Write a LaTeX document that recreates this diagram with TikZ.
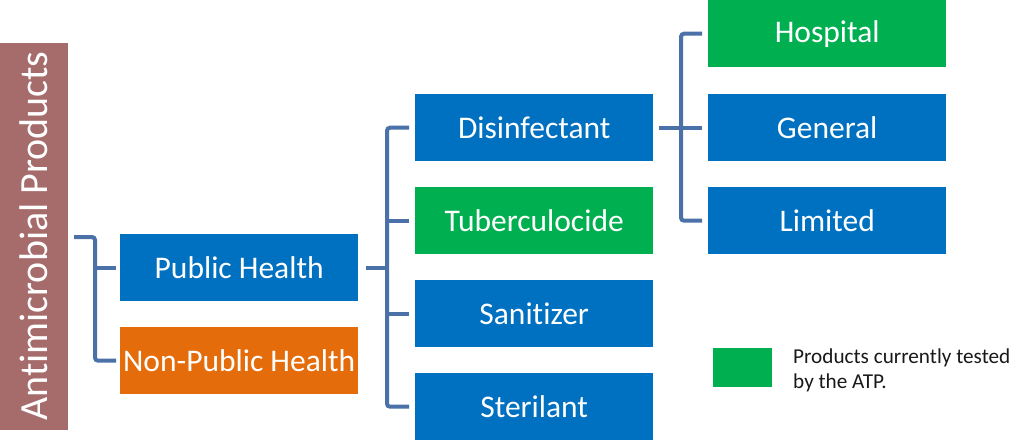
\documentclass[tikz,border=0pt]{standalone}
\usepackage{fontspec}
\setmainfont[RawFeature={-liga}]{Carlito}
\usetikzlibrary{calc}
\definecolor{cblue}{HTML}{0070C0}
\definecolor{cgreen}{HTML}{00B050}
\definecolor{corange}{HTML}{E46C0A}
\definecolor{cbrown}{HTML}{A66B6B}
\definecolor{cline}{HTML}{4A72A8}
\begin{document}
\begin{tikzpicture}[x=1pt,y=-1pt,
  box/.style={fill=cblue, minimum width=238pt, minimum height=67pt, text=white,
    font=\fontsize{31.5}{36}\selectfont, inner sep=0pt, anchor=north west},
  conn/.style={draw=cline, line width=4pt, rounded corners=3pt}]
\useasboundingbox (0,0) rectangle (1012,442);
\node[fill=cbrown, rotate=90, minimum width=387pt, minimum height=68pt, inner sep=0pt,
  text=white, font=\fontsize{40}{44}\selectfont] (ant) at (34,236) {Antimicrobial Products};
\node[box] (ph) at (120,234) {Public Health};
\node[box, fill=corange] (nph) at (120,327) {Non-Public Health};
\node[box] (dis) at (415,94) {Disinfectant};
\node[box, fill=cgreen] (tub) at (415,187) {Tuberculocide};
\node[box] (san) at (415,280) {Sanitizer};
\node[box] (ster) at (415,373) {Sterilant};
\node[box, fill=cgreen] (hos) at (708,0) {Hospital};
\node[box] (gen) at (708,94) {General};
\node[box] (lim) at (708,187) {Limited};
\node[fill=cgreen, minimum width=59pt, minimum height=39pt, inner sep=0pt, anchor=north west] (leg) at (713,348) {};
\node[anchor=west, align=left, inner sep=0pt, text=black!90, font=\fontsize{21.2}{25}\selectfont] (legt) at (793,370) {Products currently tested\\by the ATP.};
% connectors
\coordinate (l0) at (74,237);
\coordinate (lx) at (95,0);
\coordinate (mx) at (387,0);
\coordinate (rx) at (681,0);
\draw[conn] (l0) -| (lx |- nph.west) -- ([xshift=-4pt]nph.west);
\draw[conn] (lx |- ph.west) -- ([xshift=-4pt]ph.west);
\draw[conn] ([xshift=-6pt]dis.west) -| (mx |- ster.west) -- ([xshift=-6pt]ster.west);
\draw[conn] (mx |- tub.west) -- ([xshift=-6pt]tub.west);
\draw[conn] (mx |- san.west) -- ([xshift=-6pt]san.west);
\draw[conn] ([xshift=8pt]ph.east) -- (mx |- ph.east);
\draw[conn] ([xshift=-6pt]hos.west) -| (rx |- lim.west) -- ([xshift=-6pt]lim.west);
\draw[conn] ([xshift=6pt]dis.east) -- ([xshift=-6pt]gen.west);
\end{tikzpicture}
\end{document}
